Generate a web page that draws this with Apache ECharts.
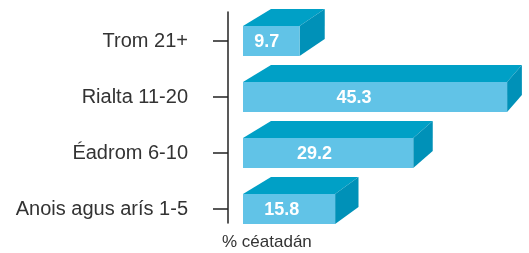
<!DOCTYPE html>
<html>
<head>
<meta charset="utf-8">
<script src="https://cdn.jsdelivr.net/npm/echarts@6/dist/echarts.min.js"></script>
<style>
  html, body { margin: 0; padding: 0; background: #fff; }
  #chart { width: 529px; height: 253px; }
</style>
</head>
<body>
<div id="chart"></div>
<script>
// data
const categories = ['Trom 21+', 'Rialta 11-20', 'Éadrom 6-10', 'Anois agus arís 1-5']
const values = [9.7, 45.3, 29.2, 15.8]
const axisName = '% céatadán'

const FRONT = '#61c3e7'
const TOP = '#00a0c6'
const SIDE = '#0091b8'
const FONT = '"Liberation Sans", Arial, sans-serif'

const myChart = echarts.init(document.getElementById('chart'))

// draws a box: front face, top face, right face
function renderBox (params, api) {
  const v = api.value(0)
  const yi = api.value(1)
  const p0 = api.coord([0, yi])
  const p1 = api.coord([v, yi])
  const band = api.size([0, 1])[1]
  const h = band * 30 / 56
  const x0 = p0[0]
  const x1 = p1[0]
  const yt = p0[1] - h / 2
  const yb = yt + h
  const d = 17
  const bl = x0 + 28
  const br = bl + (x1 - x0) * 0.95
  return {
    type: 'group',
    children: [
      {
        type: 'polygon',
        shape: { points: [[x0, yt], [bl, yt - d], [br, yt - d], [x1, yt]] },
        style: { fill: TOP }
      },
      {
        type: 'polygon',
        shape: { points: [[x1, yt], [br, yt - d], [br, yb - d], [x1, yb]] },
        style: { fill: SIDE }
      },
      {
        type: 'rect',
        shape: { x: x0, y: yt, width: x1 - x0, height: h },
        style: { fill: FRONT }
      },
      {
        type: 'text',
        style: {
          text: String(v),
          x: x0 + (x1 - x0) * 0.42,
          y: p0[1] + 1,
          align: 'center',
          verticalAlign: 'middle',
          fill: '#fff',
          font: 'bold 18px ' + FONT
        }
      }
    ]
  }
}

const option = {
  animation: false,
  title: {
    text: axisName,
    left: 222,
    top: 234,
    padding: 0,
    textStyle: { fontFamily: FONT, fontSize: 17, fontWeight: 'normal', color: '#333' }
  },
  grid: [
    // bars
    { left: 243, top: 13, width: 291.5, height: 224, outerBoundsMode: 'none' },
    // vertical axis line
    { left: 228, top: 12, width: 1, height: 211, outerBoundsMode: 'none' },
    // ticks and category labels
    { left: 228, top: 13, width: 1, height: 224, outerBoundsMode: 'none' }
  ],
  xAxis: [
    { gridIndex: 0, type: 'value', min: 0, max: 50, show: false },
    { gridIndex: 1, type: 'value', show: false },
    { gridIndex: 2, type: 'value', show: false }
  ],
  yAxis: [
    { gridIndex: 0, type: 'category', inverse: true, data: categories, show: false },
    {
      gridIndex: 1,
      type: 'value',
      axisLine: { show: true, lineStyle: { color: '#222', width: 1.5 } },
      axisTick: { show: false },
      axisLabel: { show: false },
      splitLine: { show: false }
    },
    {
      gridIndex: 2,
      type: 'category',
      inverse: true,
      data: categories,
      axisLine: { show: false },
      axisTick: { show: true, alignWithLabel: true, length: 15, lineStyle: { color: '#222', width: 1.5 } },
      axisLabel: { margin: 40, fontFamily: FONT, fontSize: 20, color: '#333' }
    }
  ],
  series: [
    {
      type: 'custom',
      xAxisIndex: 0,
      yAxisIndex: 0,
      renderItem: renderBox,
      encode: { x: 0, y: 1 },
      data: values.map((v, i) => [v, i])
    }
  ]
}

myChart.setOption(option)
</script>
</body>
</html>
